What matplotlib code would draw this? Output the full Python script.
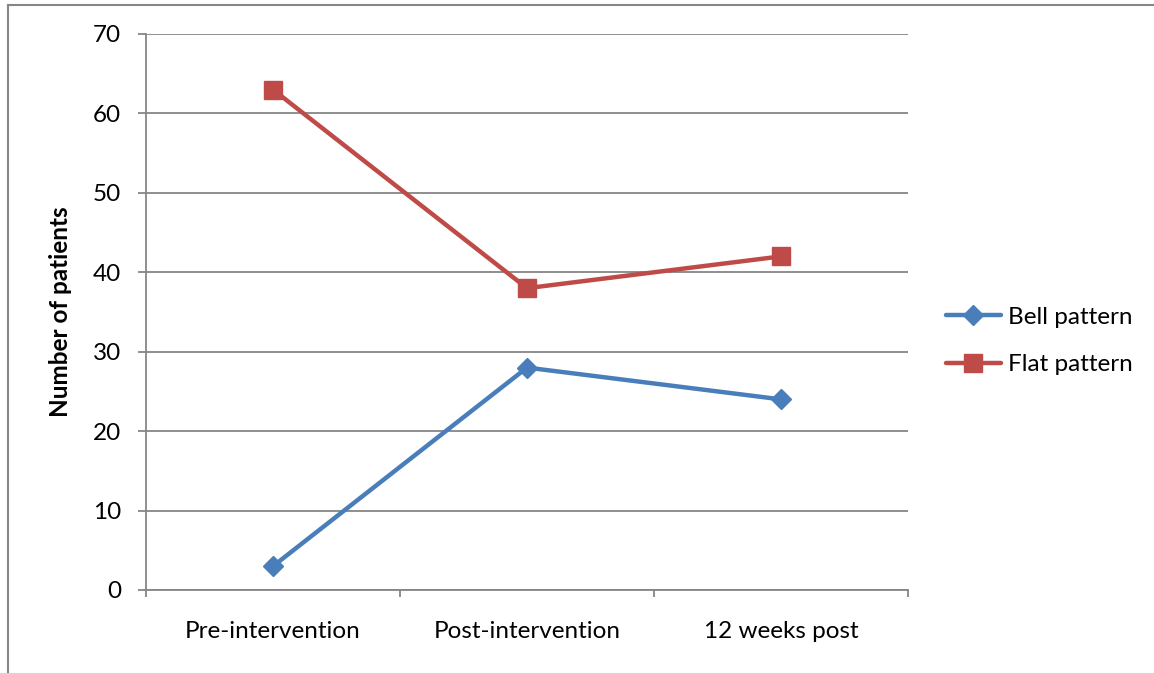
import matplotlib
matplotlib.use("Agg")
import matplotlib.pyplot as plt
from matplotlib.lines import Line2D

categories = ["Pre-intervention", "Post-intervention", "12 weeks post"]
bell_pattern = [3, 28, 24]
flat_pattern = [63, 38, 42]
y_ticks = [0, 10, 20, 30, 40, 50, 60, 70]

plt.rcParams["font.family"] = ["Lato", "DejaVu Sans"]

W, H = 1154, 673
fig = plt.figure(figsize=(W / 100, H / 100), dpi=100)
ax = fig.add_axes([146 / W, 1 - 590 / H, (908 - 146) / W, (590 - 34) / H])

grey = "#868686"
blue = "#4A7EBB"
red = "#BE4B48"

x = list(range(len(categories)))
ax.plot(x, bell_pattern, color=blue, lw=3.2, marker="D", markersize=10,
        label="Bell pattern", solid_capstyle="round", zorder=3)
ax.plot(x, flat_pattern, color=red, lw=3.2, marker="s", markersize=13,
        label="Flat pattern", solid_capstyle="round", zorder=3)

ax.set_xlim(-0.5, len(categories) - 0.5)
ax.set_ylim(0, 70)
ax.set_yticks(y_ticks)
ax.set_xticks(x)
ax.set_xticklabels(categories)
ax.set_xticks([i - 0.5 for i in range(len(categories) + 1)], minor=True)

ax.yaxis.grid(True, color=grey, lw=1.3)
ax.set_axisbelow(True)
for s in ["top", "right"]:
    ax.spines[s].set_visible(False)
for s in ["left", "bottom"]:
    ax.spines[s].set_color(grey)
    ax.spines[s].set_linewidth(1.3)

ax.tick_params(axis="y", length=6, width=1.3, color=grey, pad=12, labelsize=17.5)
ax.tick_params(axis="x", which="major", length=0, pad=22, labelsize=17.5)
ax.tick_params(axis="x", which="minor", length=5, width=1.3, color=grey)

ax.set_ylabel("Number of patients", fontsize=17.5, fontweight="bold", labelpad=15)

ax.legend(loc="center left", bbox_to_anchor=(946 / W, 1 - 341 / H),
          bbox_transform=fig.transFigure, frameon=False, fontsize=17.5,
          handlelength=2.25, labelspacing=1.1, handletextpad=0.3,
          borderpad=0, borderaxespad=0)

# outer frame
fig.add_artist(Line2D([8 / W, 8 / W], [0, 1 - 5 / H], transform=fig.transFigure,
                      color=grey, lw=1.5))
fig.add_artist(Line2D([8 / W, 1], [1 - 5 / H, 1 - 5 / H], transform=fig.transFigure,
                      color=grey, lw=1.5))

fig.savefig("out.png", dpi=100)
